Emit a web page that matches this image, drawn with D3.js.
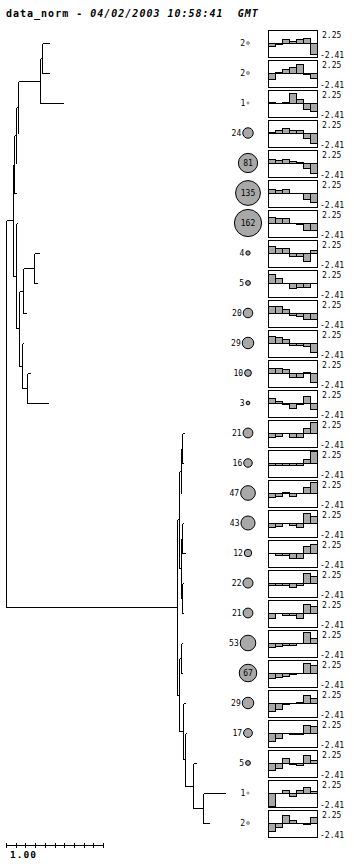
<!DOCTYPE html>
<html>
<head>
<meta charset="utf-8">
<script src="https://cdn.jsdelivr.net/npm/d3@7"></script>
<style>
  body { margin: 0; background: #fff; }
  text { font-family: "DejaVu Sans Mono", monospace; }
</style>
</head>
<body>
<div id="chart"></div>
<script>
// Cluster sizes, one per leaf (top to bottom)
const leafCounts = [2, 2, 1, 24, 81, 135, 162, 4, 5, 20, 29, 10, 3,
                    21, 16, 47, 43, 12, 22, 21, 53, 67, 29, 17, 5, 1, 2];

// Distance of each leaf from the root
const leafDist = [0.443, 0.443, 0.591, 0.127, 0.108, 0.100, 0.110, 0.340, 0.320,
                  0.203, 0.172, 0.247, 0.430,
                  1.835, 1.828, 1.809, 1.825, 1.845, 1.828, 1.828, 1.814, 1.814,
                  1.845, 1.856, 1.956, 2.258, 2.093];

// Merges: [child, child, distance]; ids >= 27 are earlier merges (27 + row)
const merges = [
    [0, 1, 0.374],    // 27
    [27, 2, 0.354],   // 28
    [28, 3, 0.127],   // 29
    [29, 4, 0.100],   // 30
    [30, 5, 0.086],   // 31
    [7, 8, 0.292],    // 32
    [32, 9, 0.178],   // 33
    [11, 12, 0.220],  // 34
    [10, 34, 0.162],  // 35
    [33, 35, 0.137],  // 36
    [6, 36, 0.100],   // 37
    [31, 37, 0.075],  // 38
    [13, 14, 1.818],  // 39
    [39, 15, 1.801],  // 40
    [16, 17, 1.811],  // 41
    [18, 19, 1.818],  // 42
    [41, 42, 1.807],  // 43
    [40, 43, 1.784],  // 44
    [20, 21, 1.801],  // 45
    [25, 26, 2.034],  // 46
    [24, 46, 1.924],  // 47
    [23, 47, 1.845],  // 48
    [22, 48, 1.828],  // 49
    [45, 49, 1.784],  // 50
    [44, 50, 1.766],  // 51
    [38, 51, 0.000]   // 52 root
];

// Mean profile of each cluster (7 conditions)
const profiles = [
    [-0.57, -0.10, 0.63, 0.40, 0.69, 0.86, -1.90],
    [-1.10, 0.10, 0.63, 1.10, 1.50, -0.20, -0.86],
    [0.10, 0.00, 0.10, 1.67, 0.63, -0.95, -1.45],
    [0.15, 0.45, 0.90, 0.57, 0.50, -0.85, -1.70],
    [0.63, 0.50, 0.69, 0.40, 0.10, -0.86, -1.70],
    [0.75, 0.57, 0.75, 0.05, -0.05, -1.00, -1.55],
    [1.10, 0.90, 0.90, 0.00, -0.20, -1.25, -1.25],
    [1.20, 0.80, 0.80, -0.57, -0.57, -1.40, 0.50],
    [1.55, 0.86, 0.00, -0.90, -0.70, -0.60, 0.00],
    [1.15, 1.15, 0.63, -0.30, -0.45, -1.00, -1.00],
    [1.25, 1.00, 0.63, -0.30, -0.35, -0.45, -1.50],
    [0.90, 0.80, 0.63, -0.63, -0.63, 0.17, -1.50],
    [0.80, 0.30, -0.17, -0.86, -0.17, 1.30, -1.05],
    [-0.63, -0.45, 0.00, -0.70, -0.75, 0.80, 1.95],
    [-0.35, -0.35, -0.35, -0.35, -0.35, 0.70, 2.10],
    [-0.75, -0.45, 0.10, -0.45, -0.05, 1.00, 1.85],
    [-0.75, -0.57, 0.00, -0.30, -0.75, 1.70, 1.15],
    [0.00, -0.30, -0.30, -0.90, -0.80, 1.25, 1.55],
    [-0.35, -0.35, -0.35, -0.70, -0.35, 1.70, 1.25],
    [-0.86, 0.00, -0.30, -0.30, -0.86, 1.55, 1.25],
    [-0.75, -0.57, -0.40, -0.30, -0.05, 1.95, 0.80],
    [-0.90, -0.75, -0.57, -0.17, 0.00, 1.65, 1.40],
    [-1.30, -1.00, -0.10, 0.00, 0.15, 1.40, 0.86],
    [-1.30, -0.80, 0.00, -0.15, -0.15, 1.40, 1.25],
    [-1.20, -0.90, 0.90, -0.15, -0.30, 1.40, 0.50],
    [-2.30, 0.00, 0.50, -0.45, 0.57, 1.00, 0.35],
    [-1.45, -0.75, 1.40, 0.57, 0.00, -0.17, 1.00]
];

const profileMax = 2.25;
const profileMin = -2.41;
const scaleTicks = d3.range(0, 1.01, 0.1);

const width = 354;
const height = 864;

const svg = d3.select("#chart")
    .append("svg")
    .attr("width", width)
    .attr("height", height)
    .style("display", "block");

svg.append("rect").attr("width", width).attr("height", height).attr("fill", "#fff");

// Title
const title = svg.append("text")
    .attr("x", 6)
    .attr("y", 17)
    .style("font-size", "10px")
    .style("font-weight", "bold")
    .style("letter-spacing", "1px");
title.append("tspan").text("data_norm - ");
title.append("tspan").style("font-style", "italic").attr("xml:space", "preserve")
    .text("04/02/2003 10:58:41  GMT");

// Scales
const n = leafCounts.length;
const yRow = d3.scalePoint()
    .domain(d3.range(n))
    .range([43, 823]);

const xDist = d3.scaleLinear()
    .domain([0, 1])
    .range([6, 103]);

// Node positions
const nodeX = [], nodeY = [];
leafDist.forEach((d, i) => { nodeX[i] = xDist(d); nodeY[i] = yRow(i); });
merges.forEach((m, k) => {
    const id = n + k;
    nodeX[id] = xDist(m[2]);
    nodeY[id] = (nodeY[m[0]] + nodeY[m[1]]) / 2;
});

// Dendrogram
const tree = svg.append("g")
    .attr("stroke", "#000")
    .attr("stroke-width", 1)
    .attr("fill", "none")
    .attr("shape-rendering", "crispEdges");

merges.forEach((m, k) => {
    const id = n + k;
    const x = Math.round(nodeX[id]) + 0.5;
    tree.append("line")
        .attr("x1", x).attr("x2", x)
        .attr("y1", Math.round(nodeY[m[0]]) + 0.5)
        .attr("y2", Math.round(nodeY[m[1]]) + 0.5);
    m.slice(0, 2).forEach(c => {
        tree.append("line")
            .attr("x1", x)
            .attr("x2", Math.round(nodeX[c]) + 0.5)
            .attr("y1", Math.round(nodeY[c]) + 0.5)
            .attr("y2", Math.round(nodeY[c]) + 0.5);
    });
});

// Cluster size circles and labels
const rSize = c => 1.07 * Math.sqrt(c);
const cx = 248;

const sizes = svg.append("g");
leafCounts.forEach((c, i) => {
    const y = yRow(i);
    const r = rSize(c);
    sizes.append("circle")
        .attr("cx", cx)
        .attr("cy", y)
        .attr("r", r)
        .attr("fill", "#a8a8a8")
        .attr("stroke", c <= 2 ? "#999" : "#000")
        .attr("stroke-width", 1);
    const inside = c >= 60;
    sizes.append("text")
        .attr("x", inside ? cx : cx - r - 1.5)
        .attr("y", y + 3)
        .attr("text-anchor", inside ? "middle" : "end")
        .style("font-size", "8px")
        .attr("fill", "#000")
        .text(c);
});

// Profile panels
const panelX = 268, panelW = 49;
const xBar = d3.scaleBand()
    .domain(d3.range(7))
    .range([panelX, panelX + panelW]);

profiles.forEach((p, i) => {
    const y0 = yRow(i);
    const yVal = d3.scaleLinear()
        .domain([profileMin, profileMax])
        .range([y0 + 14, y0 - 13]);
    const g = svg.append("g").attr("shape-rendering", "crispEdges");

    g.selectAll("rect.bar")
        .data(p)
        .enter()
        .append("rect")
        .attr("class", "bar")
        .attr("x", (d, j) => Math.round(xBar(j)) + 0.5)
        .attr("width", xBar.bandwidth())
        .attr("y", d => Math.round(yVal(Math.max(0, d))) + 0.5)
        .attr("height", d => Math.abs(Math.round(yVal(0)) - Math.round(yVal(d))))
        .attr("fill", "#a8a8a8")
        .attr("stroke", "#000");

    // zero line
    g.append("line")
        .attr("x1", panelX).attr("x2", panelX + panelW)
        .attr("y1", Math.round(yVal(0)) + 0.5).attr("y2", Math.round(yVal(0)) + 0.5)
        .attr("stroke", "#000");

    // frame
    g.append("rect")
        .attr("x", panelX + 0.5)
        .attr("y", Math.round(yVal(profileMax)) + 0.5)
        .attr("width", panelW)
        .attr("height", Math.round(yVal(profileMin)) - Math.round(yVal(profileMax)))
        .attr("fill", "none")
        .attr("stroke", "#000");

    svg.append("text")
        .attr("x", 322)
        .attr("y", y0 - 5)
        .style("font-size", "8px")
        .text(profileMax.toFixed(2));
    svg.append("text")
        .attr("x", 320)
        .attr("y", y0 + 14.5)
        .style("font-size", "8px")
        .text(profileMin.toFixed(2));
});

// Distance scale bar
const bar = svg.append("g")
    .attr("stroke", "#000")
    .attr("shape-rendering", "crispEdges");
bar.append("line")
    .attr("x1", xDist(0)).attr("x2", xDist(1) + 1)
    .attr("y1", 845.5).attr("y2", 845.5);
bar.selectAll("line.tick")
    .data(scaleTicks)
    .enter()
    .append("line")
    .attr("class", "tick")
    .attr("x1", d => Math.round(xDist(d)) + 0.5)
    .attr("x2", d => Math.round(xDist(d)) + 0.5)
    .attr("y1", 843)
    .attr("y2", 848);

svg.append("text")
    .attr("x", 10)
    .attr("y", 858)
    .style("font-size", "9.5px")
    .style("font-weight", "bold")
    .style("letter-spacing", "1px")
    .text("1.00");
</script>
</body>
</html>
